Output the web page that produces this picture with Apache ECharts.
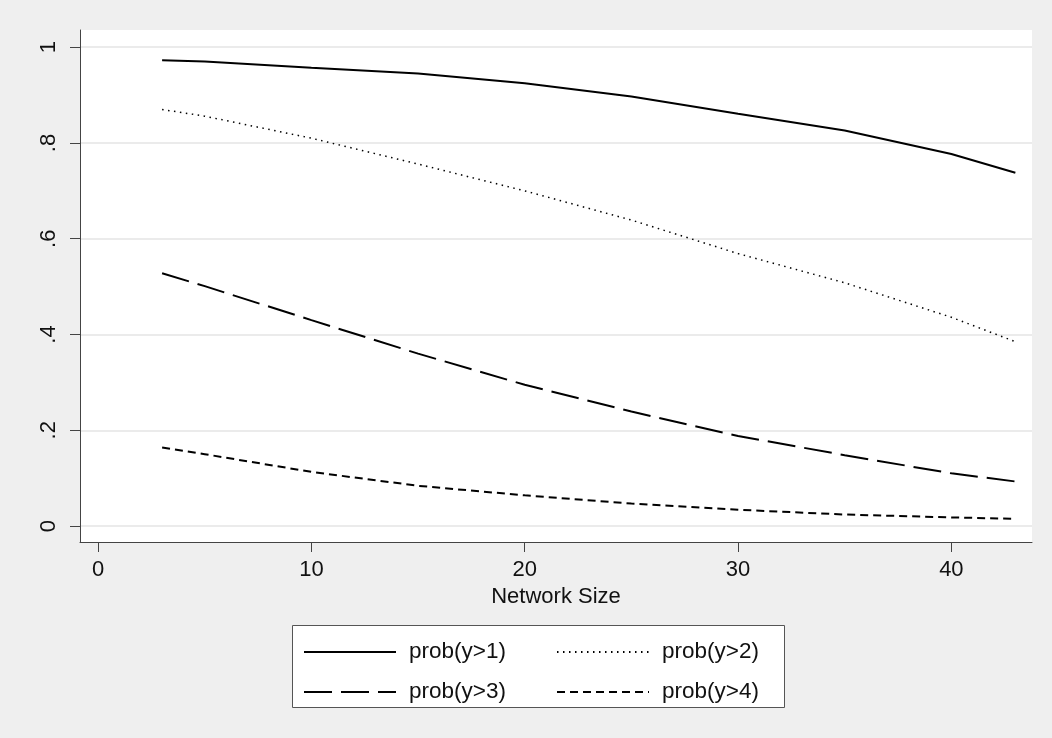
<!DOCTYPE html>
<html>
<head>
<meta charset="utf-8">
<script src="https://cdn.jsdelivr.net/npm/echarts@6/dist/echarts.min.js"></script>
<style>
  html, body { margin: 0; padding: 0; background: #efefef; }
  #chart { width: 1052px; height: 738px; }
</style>
</head>
<body>
<div id="chart"></div>
<script>
// ---- data ----
const networkSize = [3, 5, 10, 15, 20, 25, 30, 35, 40, 43];
const probGt1 = [0.973, 0.970, 0.957, 0.945, 0.925, 0.897, 0.861, 0.826, 0.777, 0.738];
const probGt2 = [0.870, 0.856, 0.810, 0.756, 0.700, 0.639, 0.569, 0.508, 0.436, 0.385];
const probGt3 = [0.528, 0.501, 0.430, 0.360, 0.295, 0.239, 0.188, 0.148, 0.110, 0.093];
const probGt4 = [0.164, 0.150, 0.113, 0.084, 0.064, 0.047, 0.034, 0.024, 0.018, 0.015];
const seriesNames = ['prob(y>1)', 'prob(y>2)', 'prob(y>3)', 'prob(y>4)'];
const xTicks = [0, 10, 20, 30, 40];
const yTicks = [0, 0.2, 0.4, 0.6, 0.8, 1];
const yTickLabels = ['0', '.2', '.4', '.6', '.8', '1'];
const xTitle = 'Network Size';

const FONT = 'Liberation Sans, Arial, sans-serif';
const pairs = a => networkSize.map((x, i) => [x, a[i]]);

const chart = echarts.init(document.getElementById('chart'), null, { renderer: 'canvas' });

const legendCommon = {
  left: 303,
  padding: 0,
  orient: 'horizontal',
  itemWidth: 92,
  itemHeight: 14,
  itemGap: 27,
  selectedMode: false,
  itemStyle: { color: 'rgba(0,0,0,0)', borderWidth: 0, opacity: 0 },
  textStyle: { fontFamily: FONT, fontSize: 22.5, color: '#111', width: 120, lineHeight: 24, padding: [0, 0, 0, 8] }
};

chart.setOption({
  backgroundColor: '#efefef',
  animation: false,
  textStyle: { fontFamily: FONT },
  grid: {
    left: 80, right: 20, top: 30, bottom: 196,
    show: true, backgroundColor: '#ffffff', borderWidth: 0
  },
  graphic: [{
    type: 'rect', z: 1,
    shape: { x: 292.5, y: 625.5, width: 492, height: 82 },
    style: { fill: '#ffffff', stroke: '#555555', lineWidth: 1 }
  }],
  legend: [
    Object.assign({}, legendCommon, { top: 640, data: seriesNames.slice(0, 2) }),
    Object.assign({}, legendCommon, { top: 680, data: seriesNames.slice(2, 4) })
  ],
  xAxis: {
    type: 'value',
    min: -0.849, max: 43.78,
    name: xTitle,
    nameLocation: 'middle',
    nameGap: 43,
    nameTextStyle: { fontFamily: FONT, fontSize: 22, color: '#111' },
    axisLine: { show: true, onZero: false, lineStyle: { color: '#444', width: 1 } },
    axisTick: { show: true, length: 10, customValues: xTicks, lineStyle: { color: '#444', width: 1 } },
    axisLabel: { customValues: xTicks, fontSize: 22, color: '#111', margin: 17, fontFamily: FONT },
    splitLine: { show: false }
  },
  yAxis: {
    type: 'value',
    min: -0.0334, max: 1.036,
    axisLine: { show: true, onZero: false, lineStyle: { color: '#444', width: 1 } },
    axisTick: { show: true, length: 10, customValues: yTicks, lineStyle: { color: '#444', width: 1 } },
    axisLabel: {
      customValues: yTicks, fontSize: 22, color: '#111', margin: 20, rotate: 90, fontFamily: FONT,
      formatter: v => {
        let best = 0;
        yTicks.forEach((t, i) => { if (Math.abs(t - v) < Math.abs(yTicks[best] - v)) best = i; });
        return yTickLabels[best];
      }
    },
    splitLine: { show: true, lineStyle: { color: '#ebebeb', width: 2 } }
  },
  series: [
    { name: seriesNames[0], type: 'line', data: pairs(probGt1), symbol: 'none', smooth: false,
      lineStyle: { color: '#000', width: 2, type: 'solid' }, itemStyle: { color: '#000' } },
    { name: seriesNames[1], type: 'line', data: pairs(probGt2), symbol: 'none', smooth: false,
      lineStyle: { color: '#000', width: 1.5, type: [1.5, 4.5] }, itemStyle: { color: '#000' } },
    { name: seriesNames[2], type: 'line', data: pairs(probGt3), symbol: 'none', smooth: false,
      lineStyle: { color: '#000', width: 2, type: [28, 9] }, itemStyle: { color: '#000' } },
    { name: seriesNames[3], type: 'line', data: pairs(probGt4), symbol: 'none', smooth: false,
      lineStyle: { color: '#000', width: 2, type: [8, 5] }, itemStyle: { color: '#000' } }
  ]
});
</script>
</body>
</html>
